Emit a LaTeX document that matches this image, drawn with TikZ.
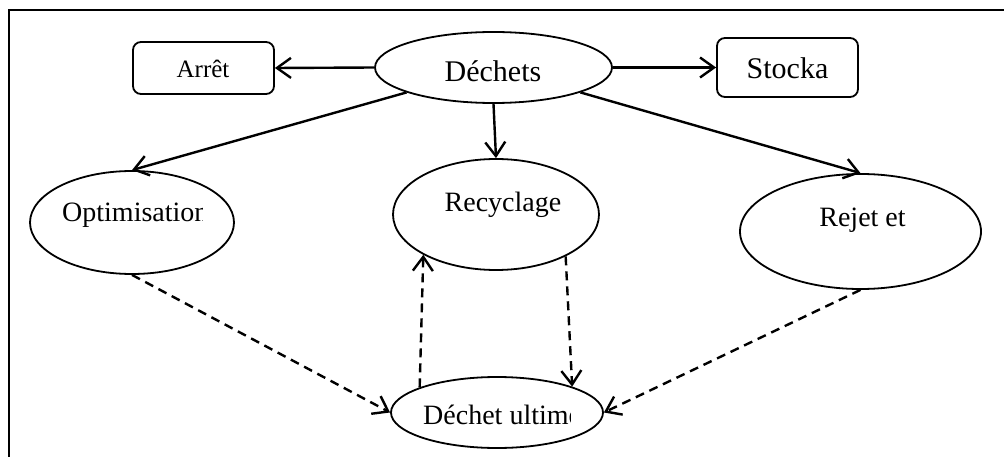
\documentclass[tikz,border=0pt]{standalone}
\usepackage{fontspec}
\setmainfont{Liberation Serif}
\usetikzlibrary{shapes.geometric,arrows.meta}
\begin{document}
\begin{tikzpicture}[x=1pt,y=-1pt,
  ell/.style={draw,ellipse,line width=1.8pt,inner sep=0pt},
  rbox/.style={draw,rounded corners=8pt,line width=1.8pt,inner sep=0pt},
  lbl/.style={inner sep=0pt,anchor=base},
  solidarrow/.style={line width=2.4pt,-{Straight Barb[length=14pt,width=20pt,line width=2.4pt]}},
  dasharrow/.style={line width=2.4pt,dash pattern=on 9pt off 6pt,-{Straight Barb[length=14pt,width=20pt,line width=2.4pt]}},
  fL/.style={font=\fontsize{30}{32}\selectfont},
  fM/.style={font=\fontsize{28}{30}\selectfont},
  fS/.style={font=\fontsize{25}{27}\selectfont},
  frame/.style={line width=2.8pt}]
\useasboundingbox (0,0) rectangle (1004,457);
% frame
\coordinate (fa) at (9,457);
\coordinate (fb) at (9,10);
\coordinate (fc) at (1004,10);
\draw[frame] (fa) -- (fb) -- (fc);
% shapes
\node[rbox,minimum width=141pt,minimum height=52pt] (arret) at (203.5,68) {};
\node[rbox,minimum width=141pt,minimum height=59pt] (stock) at (787.5,67.5) {};
\node[ell,minimum width=237pt,minimum height=71pt] (dech) at (493.5,67.5) {};
\node[ell,minimum width=204pt,minimum height=103pt] (optim) at (132,222.5) {};
\node[ell,minimum width=206pt,minimum height=111pt] (recy) at (496,214.5) {};
\node[ell,minimum width=241pt,minimum height=115pt] (rejet) at (860.5,231.5) {};
\node[ell,minimum width=212pt,minimum height=71pt] (ult) at (497,412.5) {};
% texts
\node[lbl,fS] (tarret) at (203,78) {Arrêt};
\node[lbl,fL] (tstock) at (787.5,79) {Stocka};
\node[lbl,fL] (tdech) at (493,81.5) {Déchets};
\node[lbl,fM] (trecy) at (503,211.5) {Recyclage};
\node[lbl,fM] (trejet) at (862.5,227) {Rejet et};
\begin{scope}
\clip (40,180) rectangle (202,240);
\node[lbl,fM,anchor=base west] (toptim) at (62,221.5) {Optimisation};
\end{scope}
\begin{scope}
\clip (410,390) rectangle (570,440);
\node[lbl,fM,anchor=base west] (tult) at (423,424) {Déchet ultime};
\end{scope}
% solid arrows
\draw[solidarrow] (dech.west) -- (arret.east);
\draw[solidarrow] (dech.east) -- (stock.west);
\draw[solidarrow] (dech.south) -- (recy.north);
\draw[solidarrow] (dech.196) -- (optim.north);
\draw[solidarrow] (dech.344) -- (rejet.north);
% dashed arrows
\draw[dasharrow] (optim.south) -- (ult.west);
\draw[dasharrow] (ult.162) -- (recy.209);
\draw[dasharrow] (recy.329) -- (ult.19);
\draw[dasharrow] (rejet.south) -- (ult.east);
\end{tikzpicture}
\end{document}
